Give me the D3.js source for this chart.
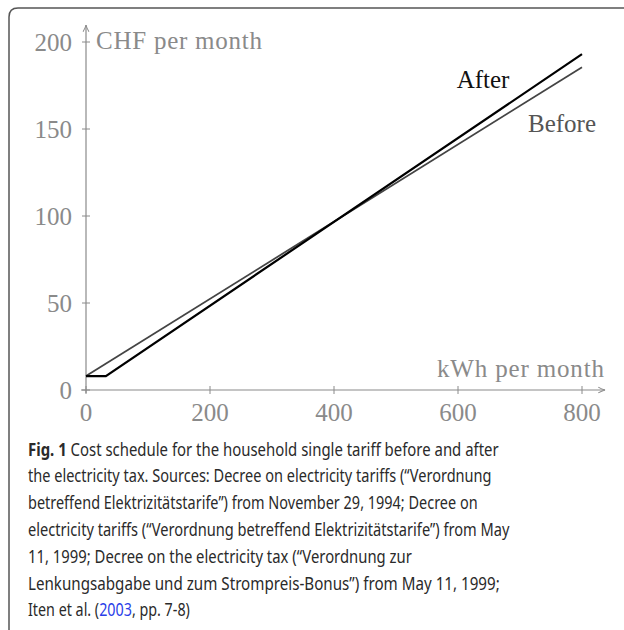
<!DOCTYPE html>
<html>
<head>
<meta charset="utf-8">
<script src="https://cdnjs.cloudflare.com/ajax/libs/d3/7.8.5/d3.min.js"></script>
<style>
  body { margin: 0; background: #fff; }
  svg { display: block; }
</style>
</head>
<body>
<div id="chart"></div>
<script>
// data
var xTicks = [0, 200, 400, 600, 800];
var yTicks = [0, 50, 100, 150, 200];
var beforeKwh = [0, 800];
var beforeChf = [8, 185.5];
var afterKwh = [0, 32, 800];
var afterChf = [8, 8, 193];
var captionLines = [
  "Cost schedule for the household single tariff before and after",
  "the electricity tax. Sources: Decree on electricity tariffs (\u201cVerordnung",
  "betreffend Elektrizit\u00e4tstarife\u201d) from November 29, 1994; Decree on",
  "electricity tariffs (\u201cVerordnung betreffend Elektrizit\u00e4tstarife\u201d) from May",
  "11, 1999; Decree on the electricity tax (\u201cVerordnung zur",
  "Lenkungsabgabe und zum Strompreis-Bonus\u201d) from May 11, 1999;",
  "Iten et al. (2003, pp. 7-8)"
];
var captionWidths = [471, 464, 450, 482, 384, 472, 162];

var W = 624, H = 630;
var svg = d3.select("#chart").append("svg").attr("width", W).attr("height", H);

// panel border (left + top, rounded corner)
svg.append("path")
  .attr("d", "M9,630 L9,17 Q9,8 18,8 L624,8")
  .attr("fill", "none").attr("stroke", "#555").attr("stroke-width", 1.5);

var x = d3.scaleLinear().domain([0, 800]).range([86, 582]);
var y = d3.scaleLinear().domain([0, 200]).range([390, 42]);

var serif = "'Liberation Serif', 'DejaVu Serif', serif";
var grey = "#8a8a8a";

// arrow marker
svg.append("defs").append("marker")
  .attr("id", "arr").attr("viewBox", "0 0 10 10")
  .attr("refX", 9).attr("refY", 5)
  .attr("markerWidth", 7).attr("markerHeight", 7)
  .attr("orient", "auto")
  .append("path").attr("d", "M1,1.5 Q5,4 9,5 Q5,6 1,8.5")
  .attr("fill", "none").attr("stroke", grey).attr("stroke-width", 1.2);

// axes lines
svg.append("line")
  .attr("x1", x(0) - 5).attr("x2", 605)
  .attr("y1", y(0)).attr("y2", y(0))
  .attr("stroke", grey).attr("stroke-width", 1.2)
  .attr("marker-end", "url(#arr)");
svg.append("line")
  .attr("x1", x(0)).attr("x2", x(0))
  .attr("y1", y(0) + 3).attr("y2", 25)
  .attr("stroke", grey).attr("stroke-width", 1.2)
  .attr("marker-end", "url(#arr)");

// x ticks
svg.selectAll(".xt").data(xTicks).enter().append("line")
  .attr("x1", d => x(d)).attr("x2", d => x(d))
  .attr("y1", y(0) - 4).attr("y2", y(0) + 4)
  .attr("stroke", grey).attr("stroke-width", 1);
svg.selectAll(".xl").data(xTicks).enter().append("text")
  .attr("x", d => x(d)).attr("y", 421)
  .attr("text-anchor", "middle")
  .attr("font-family", serif).attr("font-size", 25)
  .attr("fill", grey).text(d => d);

// y ticks
svg.selectAll(".yt").data(yTicks).enter().append("line")
  .attr("x1", x(0) - 4).attr("x2", x(0) + 4)
  .attr("y1", d => y(d)).attr("y2", d => y(d))
  .attr("stroke", grey).attr("stroke-width", 1);
svg.selectAll(".yl").data(yTicks).enter().append("text")
  .attr("x", 72).attr("y", d => y(d) + 8.5)
  .attr("text-anchor", "end")
  .attr("font-family", serif).attr("font-size", 25)
  .attr("fill", grey).text(d => d);

// axis titles
svg.append("text").attr("x", 96).attr("y", 49)
  .attr("font-family", serif).attr("font-size", 25)
  .attr("textLength", 166).attr("lengthAdjust", "spacing")
  .attr("fill", grey).text("CHF per month");
svg.append("text").attr("x", 437).attr("y", 377)
  .attr("font-family", serif).attr("font-size", 25)
  .attr("textLength", 167).attr("lengthAdjust", "spacing")
  .attr("fill", grey).text("kWh per month");

// series
var line = d3.line().x(d => x(d[0])).y(d => y(d[1]));
svg.append("path")
  .datum(d3.zip(beforeKwh, beforeChf))
  .attr("d", line).attr("fill", "none")
  .attr("stroke", "#444").attr("stroke-width", 1.8);
svg.append("path")
  .datum(d3.zip(afterKwh, afterChf))
  .attr("d", line).attr("fill", "none")
  .attr("stroke", "#000").attr("stroke-width", 2.2);

svg.append("text").attr("x", 483).attr("y", 88)
  .attr("text-anchor", "middle")
  .attr("font-family", serif).attr("font-size", 25)
  .attr("fill", "#111").text("After");
svg.append("text").attr("x", 562).attr("y", 132)
  .attr("text-anchor", "middle")
  .attr("font-family", serif).attr("font-size", 25)
  .attr("fill", "#555").text("Before");

// caption, each line squeezed to the width it has in the figure
var sans = "'Noto Sans', 'Open Sans', sans-serif";
var cap = svg.append("g").attr("font-family", sans).attr("font-size", 18.5).attr("fill", "#2a2a2a");
captionLines.forEach(function(t, i) {
  var tx = cap.append("text").attr("x", 0).attr("y", 0);
  if (i === 0) {
    tx.append("tspan").attr("font-weight", "bold").text("Fig. 1");
    tx.append("tspan").text(" " + t);
  } else if (i === captionLines.length - 1) {
    tx.append("tspan").text("Iten et al. (");
    tx.append("tspan").attr("fill", "#2a3ee8").text("2003");
    tx.append("tspan").text(", pp. 7-8)");
  } else {
    tx.text(t);
  }
  var w = tx.node().getComputedTextLength();
  var sx = captionWidths[i] / w;
  tx.attr("transform", "translate(28," + (455.5 + i * 26.8) + ") scale(" + sx + ",1)");
});
</script>
</body>
</html>
